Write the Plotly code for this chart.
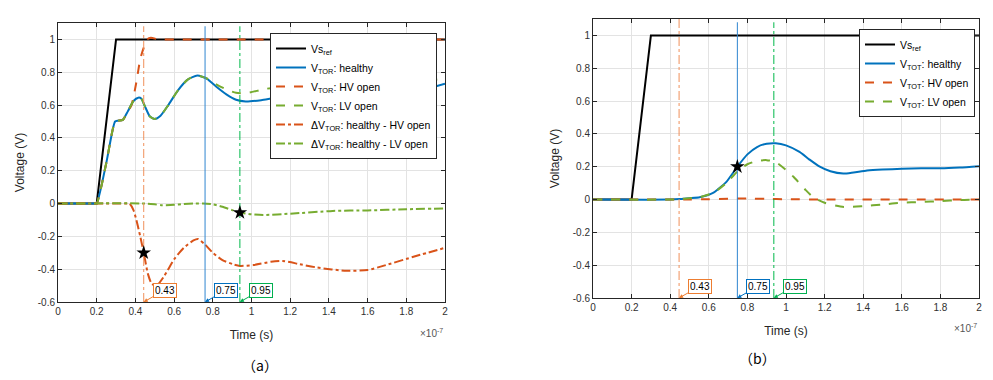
import plotly.graph_objects as go

# ---------------- data (time in units of 1e-7 s) ----------------
t_ref = [0, 0.2, 0.3, 2.0]
v_ref = [0, 0, 1, 1]

# panel (a)
t_a_healthy = [0, 0.19, 0.2, 0.25, 0.295, 0.31, 0.335, 0.36, 0.39, 0.415, 0.43, 0.45, 0.475, 0.5, 0.53,
               0.57, 0.62, 0.67, 0.72, 0.77, 0.82, 0.87, 0.92, 0.97, 1.05, 1.16, 1.25, 1.34,
               1.49, 1.6, 1.68, 1.85, 2.0]
v_a_healthy = [0, 0, 0, 0.25, 0.5, 0.505, 0.51, 0.56, 0.625, 0.645, 0.64, 0.59, 0.53, 0.515, 0.535,
               0.6, 0.69, 0.755, 0.78, 0.76, 0.71, 0.665, 0.632, 0.622, 0.63, 0.65, 0.635, 0.61,
               0.59, 0.595, 0.62, 0.68, 0.73]

t_a_hv = [0, 0.19, 0.2, 0.25, 0.295, 0.31, 0.335, 0.36, 0.38, 0.405, 0.425, 0.443, 0.46, 0.48, 0.52, 0.6, 2.0]
v_a_hv = [0, 0, 0, 0.25, 0.5, 0.505, 0.51, 0.56, 0.6, 0.74, 0.88, 0.95, 1.0, 1.01, 1.0, 1.0, 1.0]

t_a_lv = [0, 0.19, 0.2, 0.25, 0.295, 0.31, 0.335, 0.36, 0.39, 0.415, 0.43, 0.45, 0.475, 0.5, 0.53,
          0.57, 0.62, 0.67, 0.72, 0.77, 0.82, 0.87, 0.92, 0.97, 1.08, 1.2, 1.34, 1.49, 1.68,
          1.85, 1.94, 2.0]
v_a_lv = [0, 0, 0, 0.25, 0.5, 0.505, 0.51, 0.56, 0.625, 0.645, 0.64, 0.59, 0.53, 0.515, 0.535,
          0.6, 0.69, 0.755, 0.78, 0.762, 0.725, 0.695, 0.675, 0.672, 0.70, 0.71, 0.70, 0.69,
          0.70, 0.73, 0.752, 0.76]

t_a_dhv = [0, 0.36, 0.37, 0.39, 0.405, 0.425, 0.443, 0.465, 0.485, 0.51, 0.55, 0.6, 0.65, 0.7, 0.724,
           0.76, 0.8, 0.85, 0.905, 0.94, 1.01, 1.1, 1.16, 1.25, 1.34, 1.49, 1.6, 1.68, 1.85, 2.0]
v_a_dhv = [0, 0, 0, -0.04, -0.1, -0.2, -0.3, -0.43, -0.49, -0.5, -0.44, -0.34, -0.27, -0.225, -0.216,
           -0.25, -0.3, -0.345, -0.37, -0.38, -0.375, -0.355, -0.35, -0.37, -0.39, -0.41, -0.405,
           -0.38, -0.32, -0.27]

t_a_dlv = [0, 0.45, 0.5, 0.534, 0.6, 0.65, 0.7, 0.75, 0.8, 0.85, 0.9, 0.94, 1.0, 1.06, 1.2, 1.42,
           1.6, 1.8, 2.0]
v_a_dlv = [0, 0, -0.005, -0.01, -0.008, -0.003, 0, 0, -0.005, -0.02, -0.04, -0.055, -0.066, -0.07,
           -0.062, -0.045, -0.042, -0.035, -0.03]

# panel (b)
t_b_healthy = [0, 0.4, 0.45, 0.5, 0.553, 0.622, 0.65, 0.69, 0.748, 0.8, 0.85, 0.9, 0.947, 1.0,
               1.07, 1.12, 1.175, 1.23, 1.297, 1.35, 1.42, 1.5, 1.6, 1.7, 1.8, 1.9, 2.0]
v_b_healthy = [0, 0, 0.003, 0.008, 0.014, 0.04, 0.065, 0.106, 0.2, 0.275, 0.32, 0.34, 0.343, 0.33,
               0.29, 0.245, 0.2, 0.172, 0.158, 0.165, 0.177, 0.183, 0.187, 0.19, 0.19, 0.195, 0.203]

t_b_hv = [0, 0.5, 0.6, 0.7, 0.8, 0.9, 1.0, 1.2, 2.0]
v_b_hv = [0, 0, 0.002, 0.005, 0.006, 0.004, 0.002, 0, 0]

t_b_lv = [0, 0.4, 0.45, 0.5, 0.553, 0.622, 0.65, 0.69, 0.748, 0.8, 0.85, 0.9, 0.947, 1.0, 1.04,
          1.1, 1.14, 1.2, 1.3, 1.4, 1.5, 1.6, 1.7, 1.8, 1.9, 2.0]
v_b_lv = [0, 0, 0.003, 0.008, 0.014, 0.04, 0.062, 0.1, 0.17, 0.215, 0.235, 0.24, 0.228, 0.18,
          0.137, 0.06, 0.015, -0.02, -0.045, -0.04, -0.03, -0.02, -0.015, -0.01, -0.003, 0]

# markers and cursor lines
star_a_x = [0.443, 0.94]
star_a_y = [-0.3, -0.055]
star_b_x = [0.748]
star_b_y = [0.2]

cursor_a_x = [0.443, 0.76, 0.94]
cursor_b_x = [0.446, 0.748, 0.937]
cursor_labels = ["0.43", "0.75", "0.95"]

x_ticks = [0, 0.2, 0.4, 0.6, 0.8, 1.0, 1.2, 1.4, 1.6, 1.8, 2.0]
x_tick_text = ["0", "0.2", "0.4", "0.6", "0.8", "1", "1.2", "1.4", "1.6", "1.8", "2"]
y_ticks = [-0.6, -0.4, -0.2, 0, 0.2, 0.4, 0.6, 0.8, 1.0]
y_tick_text = ["-0.6", "-0.4", "-0.2", "0", "0.2", "0.4", "0.6", "0.8", "1"]

# ---------------- styling ----------------
BLUE = "#0072BD"
ORANGE = "#D95319"
GREEN = "#77AC30"
CUR_COLORS = ["#F0905A", "#2F86D0", "#00B84A"]
BOX_COLORS = ["#ED7D31", "#0070C0", "#00B050"]
CUR_DASH = ["dashdot", "solid", "dashdot"]
FONT = "Liberation Sans"

# page body has an 8px margin: figure is 985x372 placed at (8, 8)
W, H, OFF = 985, 372, 8


def px(p):
    return (p - OFF) / W


def py(p):
    return 1 - (p - OFF) / H


fig = go.Figure()


def add_line(x, y, name, color, dash, xa, ya, legend, width=2, show=True, shape="spline"):
    fig.add_trace(go.Scatter(
        x=x, y=y, name=name, mode="lines", xaxis=xa, yaxis=ya, legend=legend,
        line=dict(color=color, dash=dash, width=width, shape=shape, smoothing=0.6),
        showlegend=show, hoverinfo="skip"))


# panel (a)
add_line(t_ref, v_ref, "Vs<sub>ref</sub>", "black", "solid", "x", "y", "legend", shape="linear")
add_line(t_a_healthy, v_a_healthy, "V<sub>TOR</sub>: healthy", BLUE, "solid", "x", "y", "legend")
add_line(t_a_hv, v_a_hv, "V<sub>TOR</sub>: HV open", ORANGE, "dash", "x", "y", "legend")
add_line(t_a_lv, v_a_lv, "V<sub>TOR</sub>: LV open", GREEN, "dash", "x", "y", "legend")
add_line(t_a_dhv, v_a_dhv, "ΔV<sub>TOR</sub>: healthy - HV open", ORANGE, "dashdot", "x", "y", "legend")
add_line(t_a_dlv, v_a_dlv, "ΔV<sub>TOR</sub>: healthy - LV open", GREEN, "dashdot", "x", "y", "legend")

# panel (b)
add_line(t_ref, v_ref, "Vs<sub>ref</sub>", "black", "solid", "x2", "y2", "legend2", shape="linear")
add_line(t_b_healthy, v_b_healthy, "V<sub>TOT</sub>: healthy", BLUE, "solid", "x2", "y2", "legend2")
add_line(t_b_hv, v_b_hv, "V<sub>TOT</sub>: HV open", ORANGE, "dash", "x2", "y2", "legend2")
add_line(t_b_lv, v_b_lv, "V<sub>TOT</sub>: LV open", GREEN, "dash", "x2", "y2", "legend2")

# cursor lines
for i, cx in enumerate(cursor_a_x):
    add_line([cx, cx], [-0.6, 1.08], "", CUR_COLORS[i], CUR_DASH[i], "x", "y", "legend",
             width=1, show=False, shape="linear")
for i, cx in enumerate(cursor_b_x):
    add_line([cx, cx], [-0.6, 1.1 if i == 0 else 1.08], "", CUR_COLORS[i], CUR_DASH[i], "x2", "y2",
             "legend2", width=1, show=False, shape="linear")

# stars
fig.add_trace(go.Scatter(x=star_a_x, y=star_a_y, mode="markers", xaxis="x", yaxis="y",
                         marker=dict(symbol="star", size=11, color="black"),
                         showlegend=False, hoverinfo="skip"))
fig.add_trace(go.Scatter(x=star_b_x, y=star_b_y, mode="markers", xaxis="x2", yaxis="y2",
                         marker=dict(symbol="star", size=11, color="black"),
                         showlegend=False, hoverinfo="skip"))

# cursor label boxes
for xr, yr, xs in (("x", "y", cursor_a_x), ("x2", "y2", cursor_b_x)):
    for i, cx in enumerate(xs):
        fig.add_annotation(x=cx, y=-0.6, xref=xr, yref=yr, text=cursor_labels[i],
                           showarrow=True, arrowhead=2, arrowsize=0.8, arrowwidth=1,
                           arrowcolor=BOX_COLORS[i], ax=21, ay=-12,
                           bordercolor=BOX_COLORS[i], borderwidth=1, borderpad=1,
                           bgcolor="white", font=dict(family=FONT, size=10, color="black"))

axis_common = dict(range=[0, 2], tickvals=x_ticks, ticktext=x_tick_text, showgrid=True,
                   gridcolor="#e3e3e3", gridwidth=1, zeroline=False, showline=True,
                   linecolor="#262626", linewidth=1, mirror="ticks", ticks="inside",
                   ticklen=4, tickcolor="#262626", automargin=False,
                   tickfont=dict(family=FONT, size=10, color="#303030"),
                   title=dict(text="Time (s)", font=dict(family=FONT, size=12, color="#262626"),
                              standoff=14))
yaxis_common = dict(range=[-0.6, 1.1], tickvals=y_ticks, ticktext=y_tick_text, showgrid=True,
                    gridcolor="#e3e3e3", gridwidth=1, zeroline=False, showline=True,
                    linecolor="#262626", linewidth=1, mirror="ticks", ticks="inside",
                    ticklen=4, tickcolor="#262626", automargin=False,
                    tickfont=dict(family=FONT, size=10, color="#303030"),
                    title=dict(text="Voltage (V)", font=dict(family=FONT, size=12, color="#262626"),
                               standoff=10))

legend_common = dict(bgcolor="white", bordercolor="#262626", borderwidth=1,
                     font=dict(family=FONT, size=10.5, color="black"),
                     xanchor="left", yanchor="top", itemwidth=30, tracegroupgap=0)

fig.update_layout(
    width=W, height=H, paper_bgcolor="white", plot_bgcolor="white",
    margin=dict(l=0, r=0, t=0, b=0, autoexpand=False), showlegend=True,
    xaxis=dict(domain=[px(58), px(445)], anchor="y", **axis_common),
    yaxis=dict(domain=[py(302), py(23)], anchor="x", **yaxis_common),
    xaxis2=dict(domain=[px(593), px(979)], anchor="y2", **axis_common),
    yaxis2=dict(domain=[py(298), py(19)], anchor="x2", **yaxis_common),
    legend=dict(x=px(270), y=py(33), **legend_common),
    legend2=dict(x=px(859), y=py(29), **legend_common),
)

# exponent labels and panel captions
for xpos, ypos in ((px(445), py(333)), (px(979), py(328))):
    fig.add_annotation(x=xpos, y=ypos, xref="paper", yref="paper", showarrow=False,
                       xanchor="right", yanchor="middle", text="×10<sup>-7</sup>",
                       font=dict(family=FONT, size=10, color="#555555"))
fig.add_annotation(x=px(240), y=py(377), xref="paper", yref="paper", showarrow=False,
                   text="（a）", font=dict(family="Noto Sans CJK SC", size=14, color="black"))
fig.add_annotation(x=px(778), y=py(370), xref="paper", yref="paper", showarrow=False,
                   text="（b）", font=dict(family="Noto Sans CJK SC", size=14, color="black"))

fig.write_html("out.html")
